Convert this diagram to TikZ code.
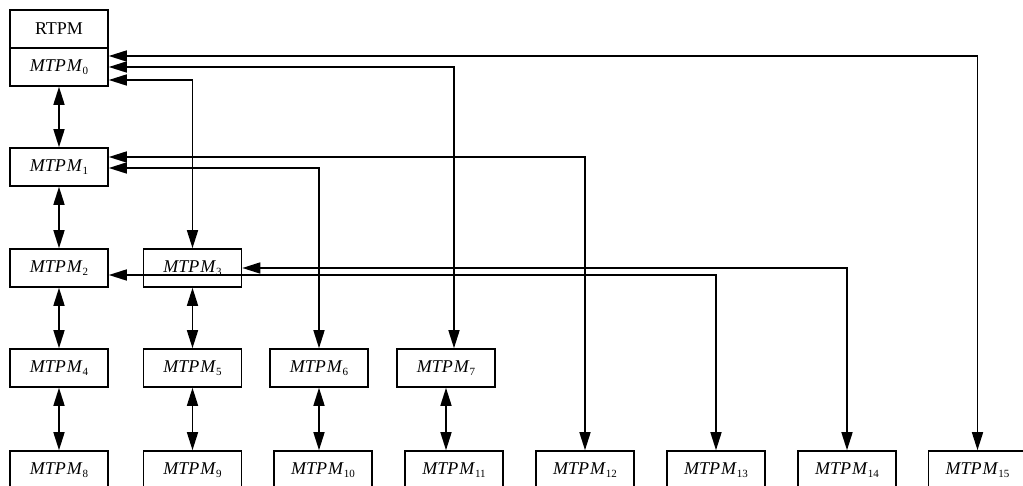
\documentclass[tikz,border=0pt]{standalone}
\usepackage{fontspec}
\setmainfont{Liberation Serif}
\usetikzlibrary{arrows.meta}
\newcommand\mtpm[1]{\textit{MTP\kern1pt M}\raisebox{-3.5pt}{\fontsize{11}{11}\selectfont #1}}
\begin{document}
\begin{tikzpicture}[x=1pt,y=-1pt,
  box/.style={draw,line width=1.6pt,minimum width=98pt,minimum height=38pt,
    inner sep=0pt,font=\fontsize{18}{20}\selectfont},
  link/.style={line width=1.6pt,{Triangle[length=18pt,width=11pt]}-{Triangle[length=18pt,width=11pt]}}]
\useasboundingbox (0,0) rectangle (1023,486);
\clip (0,0) rectangle (1023,486);
\fill[white] (0,0) rectangle (1023,486);

% root block
\node[box] (rt) at (59,29) {RTPM};
\node[box] (m0) at (59,67) {\mtpm{0}};
% levels
\node[box] (m1) at (59,167) {\mtpm{1}};
\node[box] (m2) at (59,268) {\mtpm{2}};
\node[box] (m3) at (192.5,268) {\mtpm{3}};
\node[box] (m4) at (59,368) {\mtpm{4}};
\node[box] (m5) at (192.5,368) {\mtpm{5}};
\node[box] (m6) at (319,368) {\mtpm{6}};
\node[box] (m7) at (446,368) {\mtpm{7}};
\node[box] (m8) at (59,470) {\mtpm{8}};
\node[box] (m9) at (192.5,470) {\mtpm{9}};
\node[box] (m10) at (323,470) {\mtpm{10}};
\node[box] (m11) at (454,470) {\mtpm{11}};
\node[box] (m12) at (585,470) {\mtpm{12}};
\node[box] (m13) at (716,470) {\mtpm{13}};
\node[box] (m14) at (847,470) {\mtpm{14}};
\node[box] (m15) at (977.5,470) {\mtpm{15}};

% vertical links
\draw[link] (m0) -- (m1);
\draw[link] (m1) -- (m2);
\draw[link] (m2) -- (m4);
\draw[link] (m4) -- (m8);
\draw[link] (m3) -- (m5);
\draw[link] (m5) -- (m9);
\draw[link] (m6.south) -- (m6.south |- m10.north);
\draw[link] (m7.south) -- (m7.south |- m11.north);

% long links
\draw[link] (m0.east |- 0,56) -| (m15.north);
\draw[link] (m0.east |- 0,67) -| (m7.north -| 454,0);
\draw[link] (m0.east |- 0,80) -| (m3.north);
\draw[link] (m1.east |- 0,157) -| (m12.north);
\draw[link] (m1.east |- 0,168) -| (m6.north);
\draw[link] (m3.east) -| (m14.north);
\draw[link] (m2.east |- 0,275) -| (m13.north);
\end{tikzpicture}
\end{document}
